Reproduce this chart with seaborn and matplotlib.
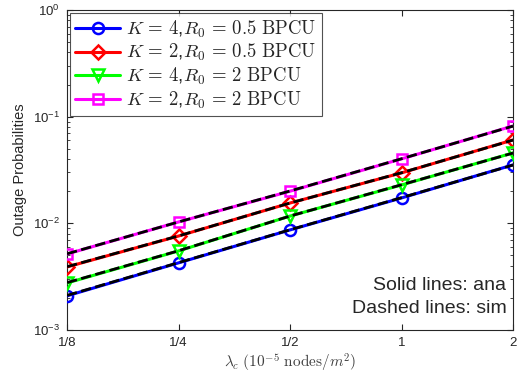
import numpy as np
import pandas as pd
import matplotlib
matplotlib.use("Agg")
import matplotlib.pyplot as plt
import seaborn as sns
from matplotlib.ticker import LogLocator, NullFormatter, FixedLocator, FixedFormatter

# Data
x_vals = [0.125, 0.25, 0.5, 1.0, 2.0]
x_labels = ["1/8", "1/4", "1/2", "1", "2"]
labels = [r"$K\,=\,4$,$R_0\,=\,0.5\ \mathrm{BPCU}$",
          r"$K\,=\,2$,$R_0\,=\,0.5\ \mathrm{BPCU}$",
          r"$K\,=\,4$,$R_0\,=\,2\ \mathrm{BPCU}$",
          r"$K\,=\,2$,$R_0\,=\,2\ \mathrm{BPCU}$"]
ana_k4_r05 = [0.00209, 0.00426, 0.00867, 0.0173, 0.0353]
ana_k2_r05 = [0.0039, 0.0076, 0.0155, 0.0297, 0.0605]
ana_k4_r2 = [0.00276, 0.00551, 0.0117, 0.0229, 0.0457]
ana_k2_r2 = [0.00516, 0.0103, 0.0200, 0.0402, 0.0818]
sim_k4_r05 = [0.00211, 0.00428, 0.00870, 0.0174, 0.0352]
sim_k2_r05 = [0.00392, 0.00762, 0.0155, 0.0298, 0.0603]
sim_k4_r2 = [0.00278, 0.00553, 0.0117, 0.0230, 0.0456]
sim_k2_r2 = [0.00518, 0.0103, 0.0201, 0.0403, 0.0816]

ana = [ana_k4_r05, ana_k2_r05, ana_k4_r2, ana_k2_r2]
sim = [sim_k4_r05, sim_k2_r05, sim_k4_r2, sim_k2_r2]
colors = ["#0000ff", "#ff0000", "#00ff00", "#ff00ff"]
markers = ["o", "D", "v", "s"]
msizes = [8, 7.5, 8.5, 7]

sns.set_style("ticks")
plt.rcParams["font.family"] = ["Liberation Sans", "DejaVu Sans"]
plt.rcParams["mathtext.fontset"] = "cm"

fig = plt.figure(figsize=(5.19, 3.77), dpi=100)
ax = fig.add_axes([67/519, 47/377, (513-67)/519, (330-10)/377])

handles = []
for a, s, c, m, ms, lab in zip(ana, sim, colors, markers, msizes, labels):
    sns.lineplot(x=x_vals, y=a, ax=ax, color=c, lw=2.2, marker=m, markersize=ms,
                 markerfacecolor="none", markeredgecolor=c, markeredgewidth=1.8,
                 label=lab, zorder=3)
    handles.append(ax.lines[-1])
    sns.lineplot(x=x_vals, y=s, ax=ax, color="black", lw=2.0, dashes=(4, 3),
                 linestyle="--", zorder=4, legend=False)

ax.set_xscale("log", base=2)
ax.set_yscale("log")
ax.set_xlim(0.125, 2)
ax.set_ylim(1e-3, 1)
ax.xaxis.set_major_locator(FixedLocator(x_vals))
ax.xaxis.set_major_formatter(FixedFormatter(x_labels))
ax.xaxis.set_minor_locator(FixedLocator([]))
ax.yaxis.set_major_locator(LogLocator(base=10, numticks=10))
ax.yaxis.set_minor_locator(LogLocator(base=10, subs=np.arange(2, 10), numticks=20))
ax.yaxis.set_minor_formatter(NullFormatter())

for sp in ax.spines.values():
    sp.set_visible(True)
    sp.set_color("#262626")
    sp.set_linewidth(0.8)
ax.tick_params(which="both", direction="in", top=True, right=True, colors="#262626",
               labelsize=9.5, labelcolor="#262626")
ax.tick_params(which="major", length=4, pad=5)
ax.tick_params(which="minor", length=2.5)

ax.set_ylabel("Outage Probabilities", fontsize=10.5, labelpad=4, color="#262626")
ax.set_xlabel(r"$\lambda_c\ (10^{-5}\ \mathrm{nodes}/m^2)$", fontsize=11, color="#404040", labelpad=2)

leg = ax.legend(handles=handles, labels=labels, loc="upper left", fontsize=13.5,
                borderaxespad=0.15, frameon=True, fancybox=False, edgecolor="#262626",
                handlelength=2.4, handletextpad=0.3, labelspacing=0.13, borderpad=0.3)
leg.get_frame().set_linewidth(0.8)

ax.text(0.985, (330-290)/320, "Solid lines: ana", transform=ax.transAxes,
        ha="right", va="baseline", fontsize=14)
ax.text(0.985, (330-313)/320, "Dashed lines: sim", transform=ax.transAxes,
        ha="right", va="baseline", fontsize=14)

fig.savefig("out.png", dpi=100)
